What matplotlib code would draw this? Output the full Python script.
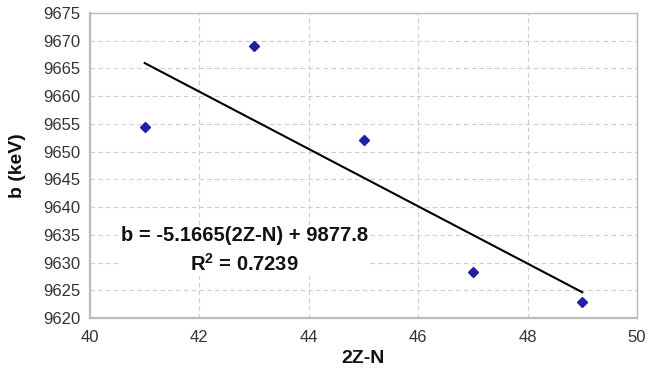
import matplotlib
matplotlib.use('Agg')
import numpy as np
import matplotlib.pyplot as plt

plt.rcParams['font.family'] = ['Liberation Sans', 'DejaVu Sans']
plt.rcParams['mathtext.fontset'] = 'custom'
plt.rcParams['mathtext.rm'] = 'Liberation Sans'
plt.rcParams['mathtext.bf'] = 'Liberation Sans:bold'

# data
x_vals = [41, 43, 45, 47, 49]
b_vals = [9654.4, 9669.0, 9652.1, 9628.3, 9622.9]
slope = -5.1665
intercept = 9877.8
fit_x = [41, 49]

fig = plt.figure(figsize=(6.49, 3.71), dpi=100)
ax = fig.add_axes([90/649, 53/371, 547/649, 305/371])

fx = np.array(fit_x, dtype=float)
ax.plot(fx, slope*fx + intercept, color='black', lw=1.5, zorder=3)
ax.plot(x_vals, b_vals, ls='', marker='D', ms=5.5, color='#2020a6', zorder=4)

ax.set_xlim(40, 50)
ax.set_ylim(9620, 9675)
ax.set_xticks(np.arange(40, 51, 2))
ax.set_yticks(np.arange(9620, 9676, 5))
ax.grid(True, ls=(0, (4, 3)), color='#cccccc', lw=0.8)
ax.set_axisbelow(True)
for s in ax.spines.values():
    s.set_color('#bbbbbb')
    s.set_linewidth(1.0)
ax.spines['left'].set_linewidth(1.6)
ax.spines['bottom'].set_linewidth(1.6)
ax.tick_params(length=0, labelsize=12, colors='#333333')
ax.tick_params(axis='x', pad=9)
ax.tick_params(axis='y', pad=7)

ax.set_xlabel('2Z-N', fontsize=14, fontweight='bold', labelpad=3, color='#111111')
ax.set_ylabel('b (keV)', fontsize=14, fontweight='bold', labelpad=12, color='#111111')

ax.text(0.282, 0.222, 'b = -5.1665(2Z-N) + 9877.8\nR$^\\mathbf{2}$ = 0.7239',
        transform=ax.transAxes, ha='center', va='center', fontsize=14.5,
        fontweight='bold', linespacing=1.4, multialignment='center',
        color='#111111',
        bbox=dict(facecolor='white', edgecolor='none', pad=1), zorder=2)

fig.savefig('out.png', dpi=100)
